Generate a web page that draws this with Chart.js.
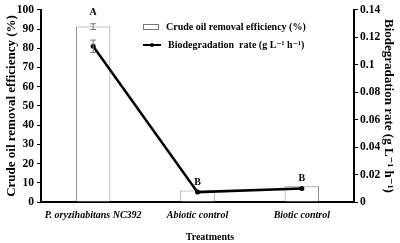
<!DOCTYPE html>
<html>
<head>
<meta charset="utf-8">
<script src="https://cdn.jsdelivr.net/npm/chart.js@4"></script>
<style>
  html, body { margin: 0; padding: 0; background: #fff; }
  #wrap { width: 400px; height: 243px; position: relative; }
</style>
</head>
<body>
<div id="wrap"><canvas id="chart" width="400" height="243"></canvas></div>
<script>
// Dati
const categories = ['P. oryzihabitans NC392', 'Abiotic control', 'Biotic control'];
const removalEfficiency = [91.3, 6.0, 8.2];
const removalError = [1.5, 0, 0];
const biodegradationRate = [0.1135, 0.0072, 0.0098];
const rateError = [0.0045, 0, 0];
const groupLetters = ['A', 'B', 'B'];
const leftTicks = [0, 10, 20, 30, 40, 50, 60, 70, 80, 90, 100];
const rightTicks = [0, 0.02, 0.04, 0.06, 0.08, 0.1, 0.12, 0.14];

const SERIF = '"Liberation Serif", "DejaVu Serif", serif';

// Barre di errore + lettere di significatività
const errorBarsPlugin = {
    id: 'errorBars',
    afterDatasetsDraw(chart) {
        const ctx = chart.ctx;
        const yL = chart.scales.y;
        const yR = chart.scales.y1;
        const barMeta = chart.getDatasetMeta(0);
        const lineMeta = chart.getDatasetMeta(1);
        ctx.save();
        ctx.strokeStyle = '#777';
        ctx.lineWidth = 1;
        const drawErr = (x, yTop, yBot) => {
            ctx.beginPath();
            ctx.moveTo(x, yTop); ctx.lineTo(x, yBot);
            ctx.moveTo(x - 3, yTop); ctx.lineTo(x + 3, yTop);
            ctx.moveTo(x - 3, yBot); ctx.lineTo(x + 3, yBot);
            ctx.stroke();
        };
        categories.forEach((_, i) => {
            const bx = barMeta.data[i].x;
            if (removalError[i] > 0) {
                drawErr(bx, yL.getPixelForValue(removalEfficiency[i] + removalError[i]),
                    yL.getPixelForValue(removalEfficiency[i] - removalError[i]));
            }
            const lx = lineMeta.data[i].x;
            if (rateError[i] > 0) {
                drawErr(lx, yR.getPixelForValue(biodegradationRate[i] + rateError[i]),
                    yR.getPixelForValue(biodegradationRate[i] - rateError[i]));
            }
            // lettera sopra il punto più alto
            const topBar = yL.getPixelForValue(removalEfficiency[i] + removalError[i]);
            const topLine = yR.getPixelForValue(biodegradationRate[i] + rateError[i]);
            const top = Math.min(topBar, topLine);
            ctx.fillStyle = '#000';
            ctx.font = 'bold 10px ' + SERIF;
            ctx.textAlign = 'center';
            ctx.textBaseline = 'middle';
            ctx.fillText(groupLetters[i], bx, top - (i === 0 ? 11 : 8));
        });
        ctx.restore();
    }
};

// Legenda interna all'area del grafico
const innerLegendPlugin = {
    id: 'innerLegend',
    afterDraw(chart) {
        const ctx = chart.ctx;
        const ds = chart.data.datasets;
        const x0 = 143, y0 = 27, rowGap = 18;
        ctx.save();
        ctx.font = 'bold 10px ' + SERIF;
        ctx.textBaseline = 'middle';
        ctx.textAlign = 'left';
        // barra
        ctx.fillStyle = '#fff';
        ctx.strokeStyle = '#777';
        ctx.lineWidth = 1;
        ctx.fillRect(x0 + 0.5, y0 - 2.5, 15, 5);
        ctx.strokeRect(x0 + 0.5, y0 - 2.5, 15, 5);
        ctx.fillStyle = '#000';
        ctx.fillText(ds[0].label, x0 + 23, y0);
        // linea
        const y1 = y0 + rowGap;
        ctx.strokeStyle = '#000';
        ctx.lineWidth = 2;
        ctx.beginPath();
        ctx.moveTo(x0, y1); ctx.lineTo(x0 + 18, y1);
        ctx.stroke();
        ctx.beginPath();
        ctx.arc(x0 + 9, y1, 2, 0, Math.PI * 2);
        ctx.fill();
        ctx.fillText(ds[1].label, x0 + 25, y1);
        ctx.restore();
    }
};

const chart = new Chart(document.getElementById('chart').getContext('2d'), {
    type: 'bar',
    data: {
        labels: categories,
        datasets: [
            {
                label: 'Crude oil removal efficiency (%)',
                data: removalEfficiency,
                yAxisID: 'y',
                backgroundColor: '#fff',
                borderColor: '#888',
                borderWidth: 1,
                categoryPercentage: 0.33,
                barPercentage: 1,
                order: 1
            },
            {
                type: 'line',
                label: 'Biodegradation  rate (g L\u207B\u00B9 h\u207B\u00B9)',
                data: biodegradationRate,
                yAxisID: 'y1',
                borderColor: '#000',
                backgroundColor: '#000',
                borderWidth: 2.5,
                pointRadius: 2.5,
                pointBorderWidth: 0,
                pointBackgroundColor: '#000',
                tension: 0,
                order: 0
            }
        ]
    },
    options: {
        responsive: false,
        animation: false,
        devicePixelRatio: 1,
        layout: { padding: { top: 7, left: 0, right: 0, bottom: 0 } },
        plugins: {
            legend: { display: false },
            tooltip: { enabled: false }
        },
        scales: {
            x: {
                offset: true,
                grid: { display: false, drawTicks: false },
                border: { display: true, color: '#000', width: 2 },
                ticks: {
                    color: '#000',
                    padding: 7,
                    maxRotation: 0,
                    autoSkip: false,
                    font: { family: SERIF, size: 10, weight: 'bold', style: 'italic' }
                },
                title: {
                    display: true,
                    // spazi iniziali: il titolo nel grafico originale è leggermente spostato a destra
                    text: '          Treatments',
                    color: '#000',
                    padding: { top: 8, bottom: 0 },
                    font: { family: SERIF, size: 10, weight: 'bold' }
                },
                afterFit(scale) { scale.height = 41; }
            },
            y: {
                position: 'left',
                min: 0,
                max: 100,
                afterBuildTicks(scale) { scale.ticks = leftTicks.map(v => ({ value: v })); },
                grid: { drawOnChartArea: false, drawTicks: true, tickLength: 4, color: '#000', tickWidth: 1 },
                border: { display: true, color: '#000', width: 2 },
                ticks: {
                    color: '#000',
                    padding: 3,
                    font: { family: SERIF, size: 11.5, weight: 'bold' }
                },
                title: {
                    display: true,
                    text: 'Crude oil removal efficiency (%)',
                    color: '#000',
                    padding: { top: 4, bottom: 0 },
                    font: { family: SERIF, size: 13, weight: 'bold' }
                },
                afterFit(scale) { scale.width = 41; }
            },
            y1: {
                position: 'right',
                min: 0,
                max: 0.14,
                afterBuildTicks(scale) { scale.ticks = rightTicks.map(v => ({ value: v })); },
                grid: { drawOnChartArea: false, drawTicks: true, tickLength: 4, color: '#000', tickWidth: 1 },
                border: { display: true, color: '#000', width: 2 },
                ticks: {
                    color: '#000',
                    padding: 2,
                    font: { family: SERIF, size: 11.5, weight: 'bold' },
                    callback: v => String(v)
                },
                title: {
                    display: true,
                    text: 'Biodegradation rate (g L\u207B\u00B9 h\u207B\u00B9)',
                    color: '#000',
                    padding: { top: 4, bottom: 0 },
                    font: { family: SERIF, size: 13, weight: 'bold' }
                },
                afterFit(scale) { scale.width = 46; }
            }
        }
    },
    plugins: [errorBarsPlugin, innerLegendPlugin]
});
</script>
</body>
</html>
